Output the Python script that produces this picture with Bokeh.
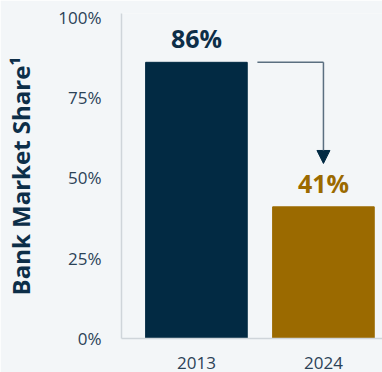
from bokeh.plotting import figure
from bokeh.models import FixedTicker, Range1d, Arrow, NormalHead, ColumnDataSource
from bokeh.core.properties import value
from bokeh.embed import file_html
from bokeh.resources import INLINE

years = ["2013", "2024"]
share = [86, 41]
bar_colors = ["#022a43", "#9b6a00"]
label_colors = ["#0d2e48", "#9b6a00"]
y_ticks = [0, 25, 50, 75, 100]
y_tick_labels = ["0%", "25%", "50%", "75%", "100%"]

FONT = "Open Sans"
BG = "#f3f6f8"

xs = list(range(len(years)))
src = ColumnDataSource(dict(x=xs, top=share, color=bar_colors, lc=label_colors,
                            txt=[f"{v}%" for v in share]))

p = figure(width=382, height=372, output_backend="svg", toolbar_location=None,
           x_range=Range1d(-0.59, 1.465), y_range=Range1d(0, 101.2),
           min_border_left=121, min_border_right=0, min_border_top=13, min_border_bottom=34,
           background_fill_color=BG, border_fill_color=BG)
p.outline_line_color = None
p.grid.visible = False

p.vbar(x="x", top="top", width=0.8, bottom=0, color="color", source=src)
p.text(x="x", y="top", text="txt", text_color="lc", source=src,
       text_font=value(FONT), text_font_style="bold", text_font_size="25px",
       text_align="center", text_baseline="middle", y_offset=-24)

# arrow from 2013 value to 2024 value
x_from = xs[0] + 0.48
x_to = xs[1]
p.line([x_from, x_to], [share[0], share[0]], line_color="#5b6f80", line_width=1.5)
p.add_layout(Arrow(end=NormalHead(size=13, fill_color="#022a43", line_color="#022a43"),
                   x_start=x_to, y_start=share[0], x_end=x_to, y_end=share[1] + 13.5,
                   line_color="#5b6f80", line_width=1.5))

p.yaxis.ticker = FixedTicker(ticks=y_ticks)
p.yaxis.major_label_overrides = {t: l for t, l in zip(y_ticks, y_tick_labels)}
p.xaxis.ticker = FixedTicker(ticks=xs)
p.xaxis.major_label_overrides = {x: y for x, y in zip(xs, years)}

for ax in (p.xaxis, p.yaxis):
    ax.axis_line_color = "#cfd5da"
    ax.axis_line_width = 1.5
    ax.major_tick_line_color = None
    ax.minor_tick_line_color = None
    ax.major_label_text_font = FONT
    ax.major_label_text_font_size = "17px"
    ax.major_label_text_color = "#2b4257"

p.yaxis.major_label_standoff = 14
p.xaxis.major_label_standoff = 12
p.yaxis.axis_label = "Bank Market Share\u00b9"
p.yaxis.axis_label_text_font = FONT
p.yaxis.axis_label_text_font_style = "bold"
p.yaxis.axis_label_text_font_size = "24px"
p.yaxis.axis_label_text_color = "#0d2e48"
p.yaxis.axis_label_standoff = 18

open("out.html", "w").write(file_html(p, INLINE))
